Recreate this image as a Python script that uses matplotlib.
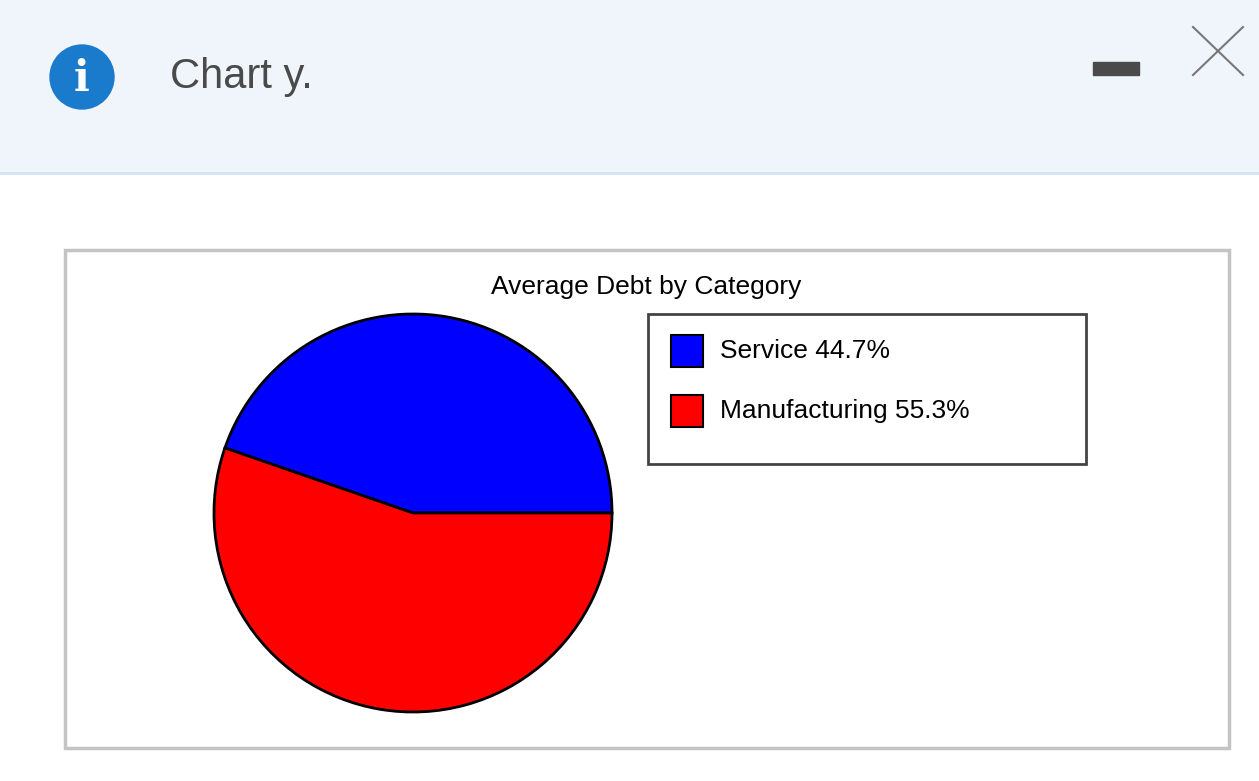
import matplotlib.pyplot as plt
from matplotlib.patches import Rectangle, Circle

categories = ['Service', 'Manufacturing']
shares = [44.7, 55.3]
colors = ['#0000ff', '#ff0000']
title = 'Average Debt by Category'

plt.rcParams['font.family'] = ['Liberation Sans', 'DejaVu Sans']

W, H = 1259, 781
fig = plt.figure(figsize=(W / 100, H / 100), dpi=100)

# overlay in pixel coordinates
bg = fig.add_axes([0, 0, 1, 1])
bg.set_xlim(0, W)
bg.set_ylim(H, 0)
bg.axis('off')

# dialog header
bg.add_patch(Rectangle((0, 0), W, 172, color='#f0f5fc', zorder=0))
bg.plot([0, W], [173, 173], color='#d2e3f5', lw=2)
bg.add_patch(Circle((82, 77), 32, color='#1a7acc'))
bg.text(82, 79, 'i', color='white', fontsize=30, fontweight='bold',
        ha='center', va='center', family='DejaVu Serif')
bg.text(170, 77, 'Chart y.', fontsize=30, color='#4a4a4a', va='center')
bg.add_patch(Rectangle((1093, 62), 46, 13, color='#4a4a4a'))
bg.plot([1193, 1243], [27, 75], color='#777777', lw=1.5)
bg.plot([1193, 1243], [75, 27], color='#777777', lw=1.5)

# chart frame
bg.add_patch(Rectangle((65, 250), 1164, 498, fill=False, ec='#c4c4c4', lw=2.5))
bg.text(646, 287, title, fontsize=19, ha='center', va='center')

# legend
bg.add_patch(Rectangle((648, 314), 438, 150, fill=False, ec='#444444', lw=2))
for i, (cat, val, c) in enumerate(zip(categories, shares, colors)):
    y = 351 + i * 60
    bg.add_patch(Rectangle((671, y - 16), 32, 32, fc=c, ec='black', lw=1.5))
    bg.text(720, y, f'{cat} {val}%', fontsize=19, va='center')

# pie
cx, cy, r = 413, 513, 201
pax = fig.add_axes([(cx - r) / W, (H - cy - r) / H, 2 * r / W, 2 * r / H])
pax.pie(shares, colors=colors, startangle=0, counterclock=True,
        wedgeprops=dict(edgecolor='black', linewidth=2))
pax.set_xlim(-1.01, 1.01)
pax.set_ylim(-1.01, 1.01)

fig.savefig('out.png', dpi=100)
